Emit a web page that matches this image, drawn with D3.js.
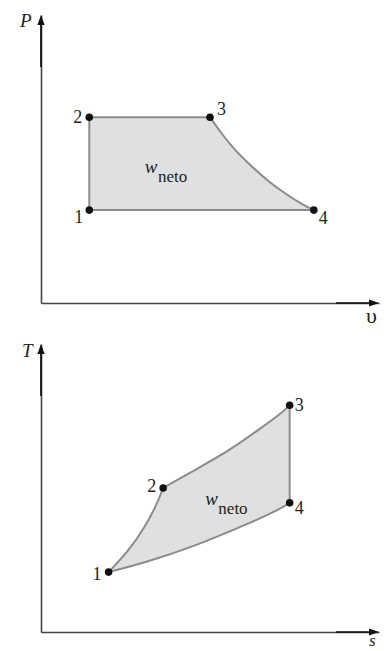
<!DOCTYPE html>
<html>
<head>
<meta charset="utf-8">
<script src="https://cdn.jsdelivr.net/npm/d3@7/dist/d3.min.js"></script>
<style>
  html, body { margin: 0; padding: 0; background: #fff; }
  svg { display: block; }
</style>
</head>
<body>
<svg id="chart" width="384" height="651"></svg>
<script>
// ---- P–v diagram: state points 1-4 ----
const pvStates = ["1", "2", "3", "4"];
const pvV = [1.0, 1.0, 3.5, 5.65];
const pvP = [2.0, 4.0, 4.0, 2.0];
// expansion 3 -> 4
const pvExpV = [3.5, 3.71, 3.98, 4.33, 4.67, 5.09, 5.43, 5.65];
const pvExpP = [4.0, 3.69, 3.33, 2.97, 2.65, 2.33, 2.11, 2.0];

// ---- T–s diagram: state points 1-4 ----
const tsStates = ["1", "2", "3", "4"];
const tsS = [1.40, 2.53, 5.15, 5.15];
const tsT = [1.29, 3.10, 4.88, 2.78];
// heating 1 -> 2 (constant volume)
const ts12S = [1.40, 1.81, 2.15, 2.40, 2.53];
const ts12T = [1.29, 1.74, 2.25, 2.75, 3.10];
// heating 2 -> 3 (constant pressure)
const ts23S = [2.53, 3.19, 3.88, 4.57, 4.98, 5.15];
const ts23T = [3.10, 3.49, 3.89, 4.40, 4.71, 4.88];
// rejection 4 -> 1, listed from 1 to 4
const ts14S = [1.40, 2.15, 3.19, 4.22, 4.85, 5.15];
const ts14T = [1.29, 1.49, 1.85, 2.30, 2.59, 2.78];

const axisLabels = { pv: ["P", "\u03C5"], ts: ["T", "s"] };
const areaLabel = ["w", "neto"];

const SERIF = "'Liberation Serif', 'Times New Roman', serif";
const svg = d3.select("#chart");
const zip = (a, b) => a.map((d, i) => [d, b[i]]);

const FILL = "#dfe0e2", EDGE = "#8b8b8b", AXIS = "#444", INK = "#111", TXT = "#231f20";

function label(g, x, y, str, size) {
  return g.append("text").attr("x", x).attr("y", y)
    .style("font-family", SERIF).style("font-size", size + "px").attr("fill", TXT).text(str);
}

function drawPanel(cfg) {
  const x = d3.scaleLinear().domain([0, 7]).range([41, 379]);
  const y = d3.scaleLinear().domain([0, 6.2]).range([cfg.y0, cfg.y0 - 288]);
  const g = svg.append("g");

  // axes (domain lines only)
  const ax = g.append("g").attr("transform", `translate(0,${y(0)})`)
    .call(d3.axisBottom(x).ticks(0).tickSizeOuter(0));
  const ay = g.append("g").attr("transform", `translate(${x(0)},0)`)
    .call(d3.axisLeft(y).ticks(0).tickSizeOuter(0));
  [ax, ay].forEach(a => a.select(".domain").attr("stroke", AXIS).attr("stroke-width", 1.6));

  // darker shafts and arrowheads near the ends
  const xe = x.range()[1], ye = y.range()[1];
  g.append("line").attr("x1", xe - 43).attr("x2", xe - 6).attr("y1", y(0)).attr("y2", y(0))
    .attr("stroke", INK).attr("stroke-width", 1.7);
  g.append("line").attr("x1", x(0)).attr("x2", x(0)).attr("y1", ye + 52).attr("y2", ye + 6)
    .attr("stroke", INK).attr("stroke-width", 1.7);
  g.append("path").attr("fill", INK)
    .attr("d", `M${xe},${y(0)} L${xe - 10},${y(0) - 3.6} L${xe - 10},${y(0) + 3.6} Z`);
  g.append("path").attr("fill", INK)
    .attr("d", `M${x(0)},${ye} L${x(0) - 3.6},${ye + 10} L${x(0) + 3.6},${ye + 10} Z`);

  // axis titles
  label(g, cfg.yTitle[0], cfg.yTitle[1], cfg.titles[0], 19).style("font-style", "italic");
  label(g, cfg.xTitle[0], cfg.xTitle[1], cfg.titles[1], cfg.xTitleSize).style("font-style", cfg.xTitleStyle);

  // cycle boundary: segments in order around the loop
  const line = d3.line().x(d => x(d[0])).y(d => y(d[1]));
  const segs = cfg.segments.map(s => (s.curve ? line.curve(d3.curveBasis) : line.curve(d3.curveLinear))(s.pts));
  const fillPath = segs.map((p, i) => i === 0 ? p : p.replace(/^M/, "L")).join("") + "Z";
  g.append("path").attr("d", fillPath).attr("fill", FILL).attr("stroke", "none");
  segs.forEach(p => g.append("path").attr("d", p).attr("fill", "none")
    .attr("stroke", EDGE).attr("stroke-width", 2).attr("stroke-linejoin", "round"));

  // state points and numbers
  cfg.states.forEach((s, i) => {
    const px = x(cfg.sx[i]), py = y(cfg.sy[i]);
    g.append("circle").attr("cx", px).attr("cy", py).attr("r", 3.8).attr("fill", INK);
    const o = cfg.numOffsets[i];
    label(g, px + o[0], py + o[1], s, 18).attr("text-anchor", o[0] < 0 ? "end" : "start");
  });

  // net work label
  const t = label(g, x(cfg.wPos[0]), y(cfg.wPos[1]), null, 18);
  t.append("tspan").style("font-size", "19px").style("font-style", "italic").text(areaLabel[0]);
  t.append("tspan").style("font-size", "17px").attr("dy", 9).attr("dx", 0.5).text(areaLabel[1]);
}

drawPanel({
  y0: 303,
  titles: axisLabels.pv,
  yTitle: [20, 27], xTitle: [366, 323], xTitleSize: 22, xTitleStyle: "normal",
  states: pvStates, sx: pvV, sy: pvP,
  numOffsets: [[-6, 13], [-7, 6], [7, -2], [5, 14]],
  segments: [
    { pts: [[pvV[0], pvP[0]], [pvV[1], pvP[1]]] },
    { pts: [[pvV[1], pvP[1]], [pvV[2], pvP[2]]] },
    { pts: zip(pvExpV, pvExpP), curve: true },
    { pts: [[pvV[3], pvP[3]], [pvV[0], pvP[0]]] }
  ],
  wPos: [2.15, 2.80]
});

drawPanel({
  y0: 632,
  titles: axisLabels.ts,
  yTitle: [22, 357], xTitle: [369, 646], xTitleSize: 17, xTitleStyle: "italic",
  states: tsStates, sx: tsS, sy: tsT,
  numOffsets: [[-7, 8], [-7, 4], [5, 6], [5, 11]],
  segments: [
    { pts: zip(ts12S, ts12T), curve: true },
    { pts: zip(ts23S, ts23T), curve: true },
    { pts: [[tsS[2], tsT[2]], [tsS[3], tsT[3]]] },
    { pts: zip(ts14S, ts14T).reverse(), curve: true }
  ],
  wPos: [3.40, 2.73]
});
</script>
</body>
</html>
